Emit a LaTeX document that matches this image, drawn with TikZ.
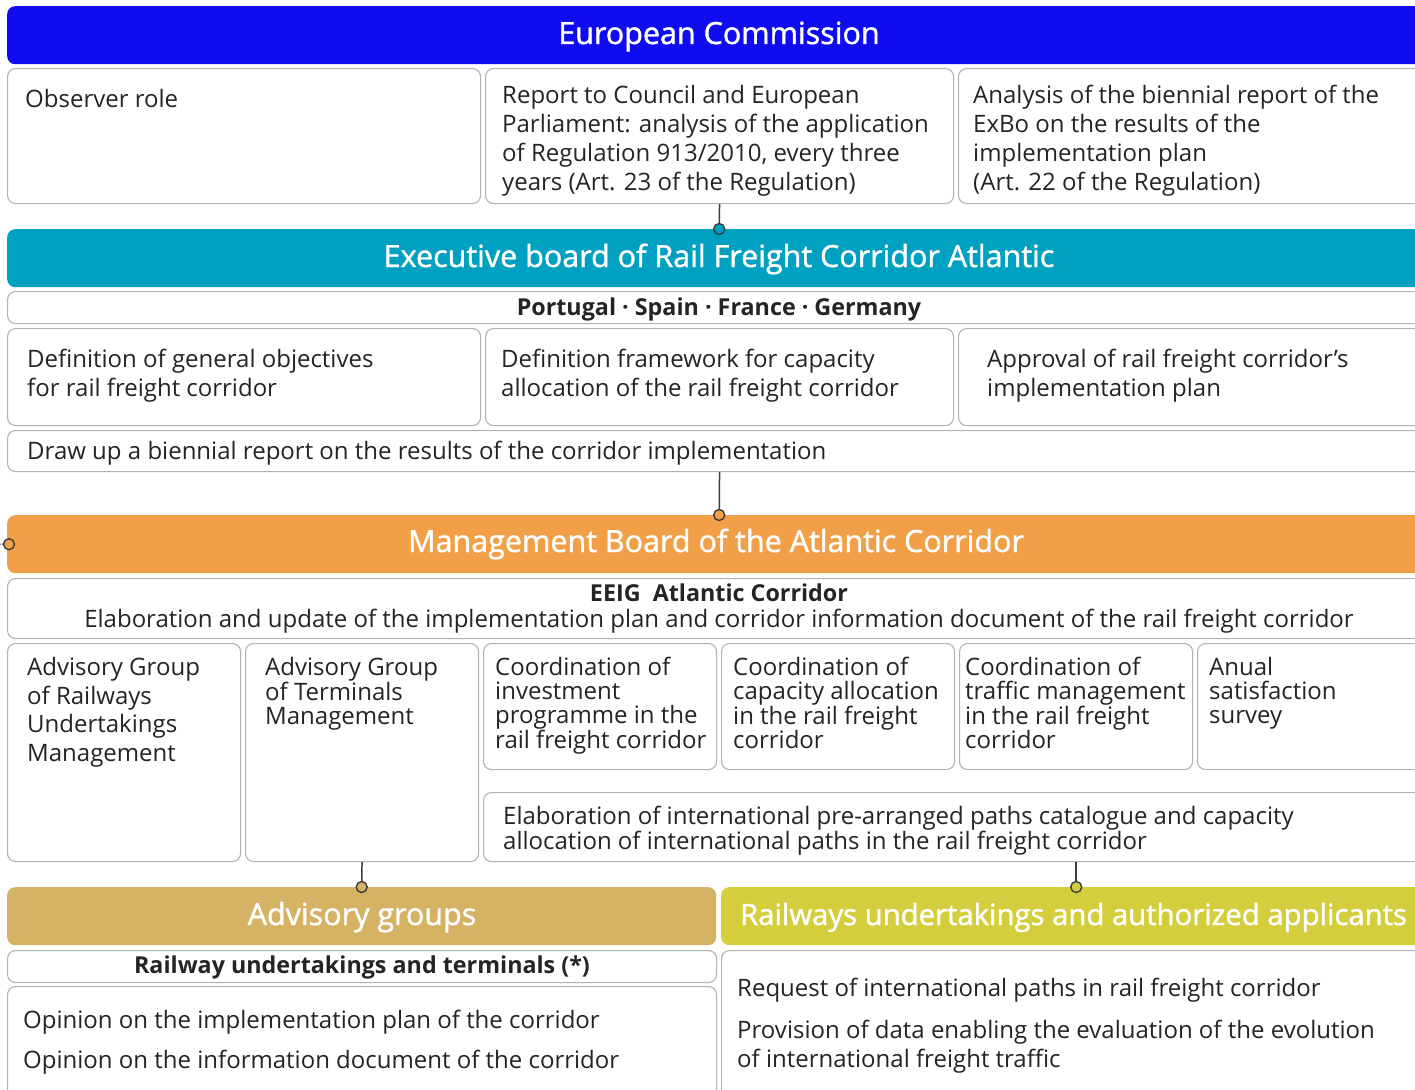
\documentclass[tikz,border=0pt]{standalone}
\usepackage{fontspec}
\setmainfont{Open Sans}
\newfontfamily\hfont[FakeBold=1.3]{Open Sans}
\definecolor{ecc}{RGB}{16,12,240}
\definecolor{exc}{RGB}{0,160,192}
\definecolor{mgc}{RGB}{242,160,72}
\definecolor{adc}{RGB}{214,178,100}
\definecolor{rwc}{RGB}{212,206,62}
\definecolor{bordc}{RGB}{178,178,178}
\definecolor{txtc}{RGB}{36,36,36}
\definecolor{linec}{RGB}{60,60,60}
\newcommand\firstln{\rule{0pt}{20pt}}
\newcommand\bx[6][box]{\node[#1, minimum width={(#5-#3)*1pt}, minimum height={(#6-#4)*1pt}] (#2) at (#3,#4) {};}
\tikzset{
  box/.style={draw=bordc, line width=1.1pt, rounded corners=8pt, fill=white, anchor=north west, inner sep=0pt},
  hdr/.style={draw=none, fill=#1, rounded corners=8pt, anchor=north west, inner sep=0pt},
  body/.style={anchor=north west, inner sep=0pt, align=left, text=txtc, font=\fontsize{24}{28.8}\selectfont},
  bodyt/.style={body, font=\fontsize{24}{24}\selectfont},
  single/.style={anchor=base west, inner sep=0pt, text=txtc, font=\fontsize{24}{28.8}\selectfont},
  sub/.style={anchor=base, inner sep=0pt, text=txtc, font=\fontsize{23.3}{28}\selectfont\bfseries},
  htxt/.style={anchor=base, inner sep=0pt, text=white, font=\hfont\fontsize{30.5}{36}\selectfont},
  conn/.style={draw=linec, line width=1.5pt},
  dot/.style={circle, draw=linec, line width=1.4pt, minimum size=11pt, inner sep=0pt, fill=#1},
}
\begin{document}
\begin{tikzpicture}[x=1pt,y=-1pt]
\useasboundingbox (0,0) rectangle (1415,1089);
\clip (0,0) rectangle (1415,1089);
% European Commission
\bx[hdr=ecc]{ec}{7}{6}{1431}{64}
\node[htxt] (ecT) at (719,44) {European Commission};
\bx{obs}{7}{68}{480}{203}
\bx{rb}{485}{68}{953}{203}
\bx{rc}{958}{68}{1431}{203}
\node[single] (obsT) at (25,107.5) {Observer role};
\node[body] (rbT) at (502,83.5) {\firstln Report to Council and European\\Parliament: analysis of the application\\of Regulation 913/2010, every three\\years (Art. 23 of the Regulation)};
\node[body] (rcT) at (973,83.5) {\firstln Analysis of the biennial report of the\\ExBo on the results of the\\implementation plan\\(Art. 22 of the Regulation)};
% Executive board
\bx[hdr=exc]{ex}{7}{229}{1431}{287}
\node[htxt] (exT) at (719,267) {Executive board of Rail Freight Corridor Atlantic};
\bx{pt}{7}{291}{1431}{323}
\node[sub] (ptT) at (719,315) {Portugal · Spain · France · Germany};
\bx{da}{7}{328}{480}{425}
\bx{db}{485}{328}{953}{425}
\bx{dc}{958}{328}{1431}{425}
\node[body] (daT) at (27,347) {\firstln Definition of general objectives\\for rail freight corridor};
\node[body] (dbT) at (501,347) {\firstln Definition framework for capacity\\allocation of the rail freight corridor};
\node[body] (dcT) at (987,347) {\firstln Approval of rail freight corridor's\\implementation plan};
\bx{du}{7}{430}{1431}{471}
\node[single] (duT) at (27,459) {Draw up a biennial report on the results of the corridor implementation};
% Management board
\bx[hdr=mgc]{mg}{7}{515}{1431}{573}
\node[htxt] (mgT) at (716,552) {Management Board of the Atlantic Corridor};
\bx{ee}{7}{578}{1431}{638}
\node[sub] (eeT) at (719,601) {EEIG\ \ Atlantic Corridor};
\node[anchor=base, inner sep=0pt, text=txtc, font=\fontsize{24}{28.8}\selectfont] (ee2T) at (719,627) {Elaboration and update of the implementation plan and corridor information document of the rail freight corridor};
\bx{agr}{7}{643}{240}{861}
\bx{agt}{245}{643}{478}{861}
\bx{ca}{483}{643}{716}{769}
\bx{cb}{721}{643}{954}{769}
\bx{cc}{959}{643}{1192}{769}
\bx{cd}{1197}{643}{1431}{769}
\bx{el}{483}{792}{1431}{861}
\node[body] (agrT) at (27,655) {\firstln Advisory Group\\of Railways\\Undertakings\\Management};
\node[bodyt] (agtT) at (265,655) {\firstln Advisory Group\\of Terminals\\Management};
\node[bodyt] (caT) at (495,655) {\firstln Coordination of\\investment\\programme in the\\rail freight corridor};
\node[bodyt] (cbT) at (733,655) {\firstln Coordination of\\capacity allocation\\in the rail freight\\corridor};
\node[bodyt] (ccT) at (965,655) {\firstln Coordination of\\traffic management\\in the rail freight\\corridor};
\node[bodyt] (cdT) at (1209,655) {\firstln Anual\\satisfaction\\survey};
\node[bodyt] (elT) at (503,804.5) {\firstln Elaboration of international pre-arranged paths catalogue and capacity\\allocation of international paths in the rail freight corridor};
% Advisory groups / Railways
\bx[hdr=adc]{ad}{7}{887}{716}{945}
\bx[hdr=rwc]{rw}{721}{887}{1431}{945}
\node[htxt] (adT) at (362,925) {Advisory groups};
\node[htxt, font=\hfont\fontsize{29.3}{36}\selectfont] (rwT) at (1073.5,925) {Railways undertakings and authorized applicants};
\bx{ru}{7}{950}{716}{982}
\node[sub] (ruT) at (362,973) {Railway undertakings and terminals (*)};
\bx{op}{7}{986}{716}{1110}
\node[single] (op1T) at (23,1028) {Opinion on the implementation plan of the corridor};
\node[single] (op2T) at (23,1068) {Opinion on the information document of the corridor};
\bx{rr}{721}{950}{1431}{1110}
\node[single] (rr1T) at (737,996.5) {Request of international paths in rail freight corridor};
\node[body] (rr2T) at (737,1018.5) {\firstln Provision of data enabling the evaluation of the evolution\\of international freight traffic};
% connectors
\draw[conn] (rb.south) -- (ex.north);
\node[dot=exc] (d1) at (ex.north) {};
\draw[conn] (du.south) -- (mg.north);
\node[dot=mgc] (d2) at (mg.north) {};
\coordinate (lft) at (0,544);
\node[dot=mgc] (d0) at ([xshift=2pt]mg.west) {};
\draw[linec, line width=1pt, densely dotted] (lft) -- (d0.west);
\draw[conn] (agt.south) -- (ad.north);
\node[dot=adc] (d3) at (ad.north) {};
\draw[conn] (rw.north |- el.south) -- (rw.north);
\node[dot=rwc] (d4) at (rw.north) {};
\end{tikzpicture}
\end{document}
